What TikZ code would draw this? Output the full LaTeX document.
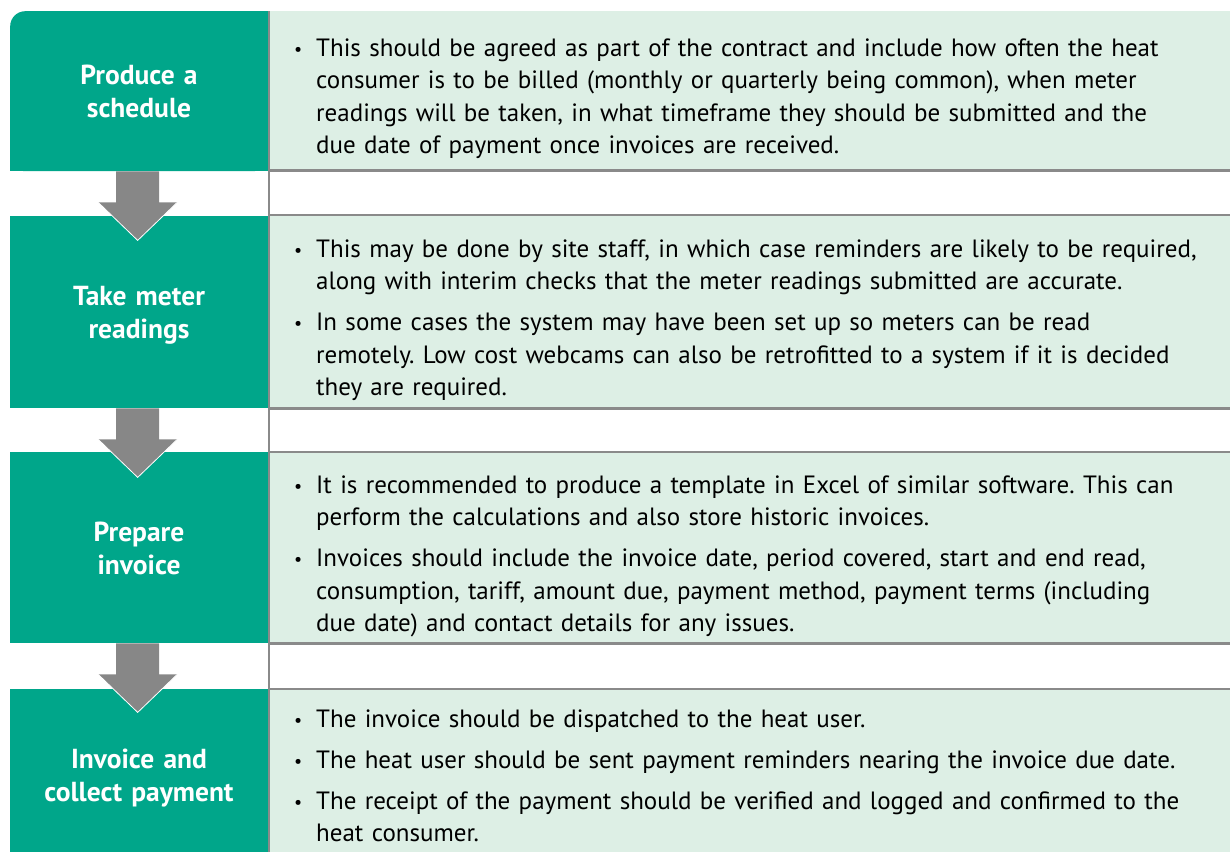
\documentclass[tikz,border=0pt]{standalone}
\usepackage{fontspec}
\setmainfont{PT Sans}
\usetikzlibrary{calc}

\definecolor{stepgreen}{RGB}{0,166,138}
\definecolor{panelbg}{RGB}{221,239,229}
\definecolor{rulegray}{RGB}{138,138,138}
\definecolor{arrowgray}{RGB}{135,135,135}

\newcommand\bitem{\leavevmode\llap{{\fontsize{18}{18}\selectfont\raisebox{1pt}{\textbullet}}\hspace{14pt}}}

\tikzset{
  stepbox/.style={fill=stepgreen, inner sep=0pt, minimum width=258pt, anchor=north west},
  panel/.style={fill=panelbg, inner sep=0pt, minimum width=962pt, anchor=north west},
  rule/.style={draw=rulegray, line width=2.2pt},
  steptitle/.style={text=white, inner sep=0pt, anchor=base, text width=250pt, align=center,
    font=\bfseries\fontsize{27.5}{33}\selectfont},
  bodytext/.style={text=black, inner sep=0pt, anchor=base west, text width=960pt, align=left,
    font=\fontsize{25}{32.5}\selectfont\frenchspacing},
  flowarrow/.style={fill=arrowgray},
}

\begin{document}
\begin{tikzpicture}[x=1pt, y=-1pt]
  \useasboundingbox (0,0) rectangle (1230,852);

  % light panels on the right
  \node[panel, minimum height=159pt] (p1) at (268,11) {};
  \node[panel, minimum height=193pt] (p2) at (268,215) {};
  \node[panel, minimum height=191pt] (p3) at (268,452) {};
  \node[panel, minimum height=163pt] (p4) at (268,689) {};
  \foreach \p in {p1,p2,p3} \draw[rule] (\p.south west) -- (\p.south east);
  \foreach \p in {p2,p3,p4} \draw[rule] (\p.north west) -- (\p.north east);

  % green step boxes
  \node[stepbox, minimum height=160pt, rounded corners=15pt] (g1) at (10,11) {};
  \fill[stepgreen] ([yshift=-20pt]g1.north west) rectangle (g1.south east);
  \fill[stepgreen] ([xshift=20pt]g1.north west) rectangle (g1.south east);
  \node[stepbox, minimum height=192pt] (g2) at (10,216) {};
  \node[stepbox, minimum height=191pt] (g3) at (10,452) {};
  \node[stepbox, minimum height=163pt] (g4) at (10,689) {};

  % vertical divider
  \draw[rule] ([xshift=0.5pt]g1.north east) -- ([xshift=0.5pt]g4.south east);

  % block arrows between the steps
  \foreach \a in {g1,g2,g3} {
    \fill[flowarrow] ($(\a.south)+(-23,0)$) -- ++(0,31) -- ++(-18,0)
      -- ($(\a.south)+(-1.5,69)$) -- ($(\a.south)+(38,31)$) -- ++(-18,0)
      -- ($(\a.south)+(20,0)$) -- cycle;
    \draw[white, line width=0.8pt] ($(\a.south)+(-41,31)$) -- ($(\a.south)+(-1.5,69)$)
      -- ($(\a.south)+(38,31)$);
  }

  % step titles
  \node[steptitle] (t1) at (139,84) {Produce a\\schedule};
  \node[steptitle] (t2) at (139,305) {Take meter\\readings};
  \node[steptitle] (t3) at (139,541) {Prepare\\invoice};
  \node[steptitle] (t4) at (139,768) {Invoice and\\collect payment};

  % descriptions
  \node[bodytext] (d1) at (316,56) {%
    \bitem This should be agreed as part of the contract and include how often the heat\\
    consumer is to be billed (monthly or quarterly being common), when meter\\
    readings will be taken, in what timeframe they should be submitted and the\\
    due date of payment once invoices are received.};
  \node[bodytext] (d2) at (316,257) {%
    \bitem This may be done by site staff, in which case reminders are likely to be required,\\
    along with interim checks that the meter readings submitted are accurate.\\[8.5pt]
    \bitem In some cases the system may have been set up so meters can be read\\
    remotely. Low cost webcams can also be retrofitted to a system if it is decided\\
    they are required.};
  \node[bodytext] (d3) at (316,493) {%
    \bitem It is recommended to produce a template in Excel of similar software. This can\\
    perform the calculations and also store historic invoices.\\[8.5pt]
    \bitem Invoices should include the invoice date, period covered, start and end read,\\
    consumption, tariff, amount due, payment method, payment terms (including\\
    due date) and contact details for any issues.};
  \node[bodytext] (d4) at (316,727) {%
    \bitem The invoice should be dispatched to the heat user.\\[8.5pt]
    \bitem The heat user should be sent payment reminders nearing the invoice due date.\\[8.5pt]
    \bitem The receipt of the payment should be verified and logged and confirmed to the\\
    heat consumer.};
\end{tikzpicture}
\end{document}
